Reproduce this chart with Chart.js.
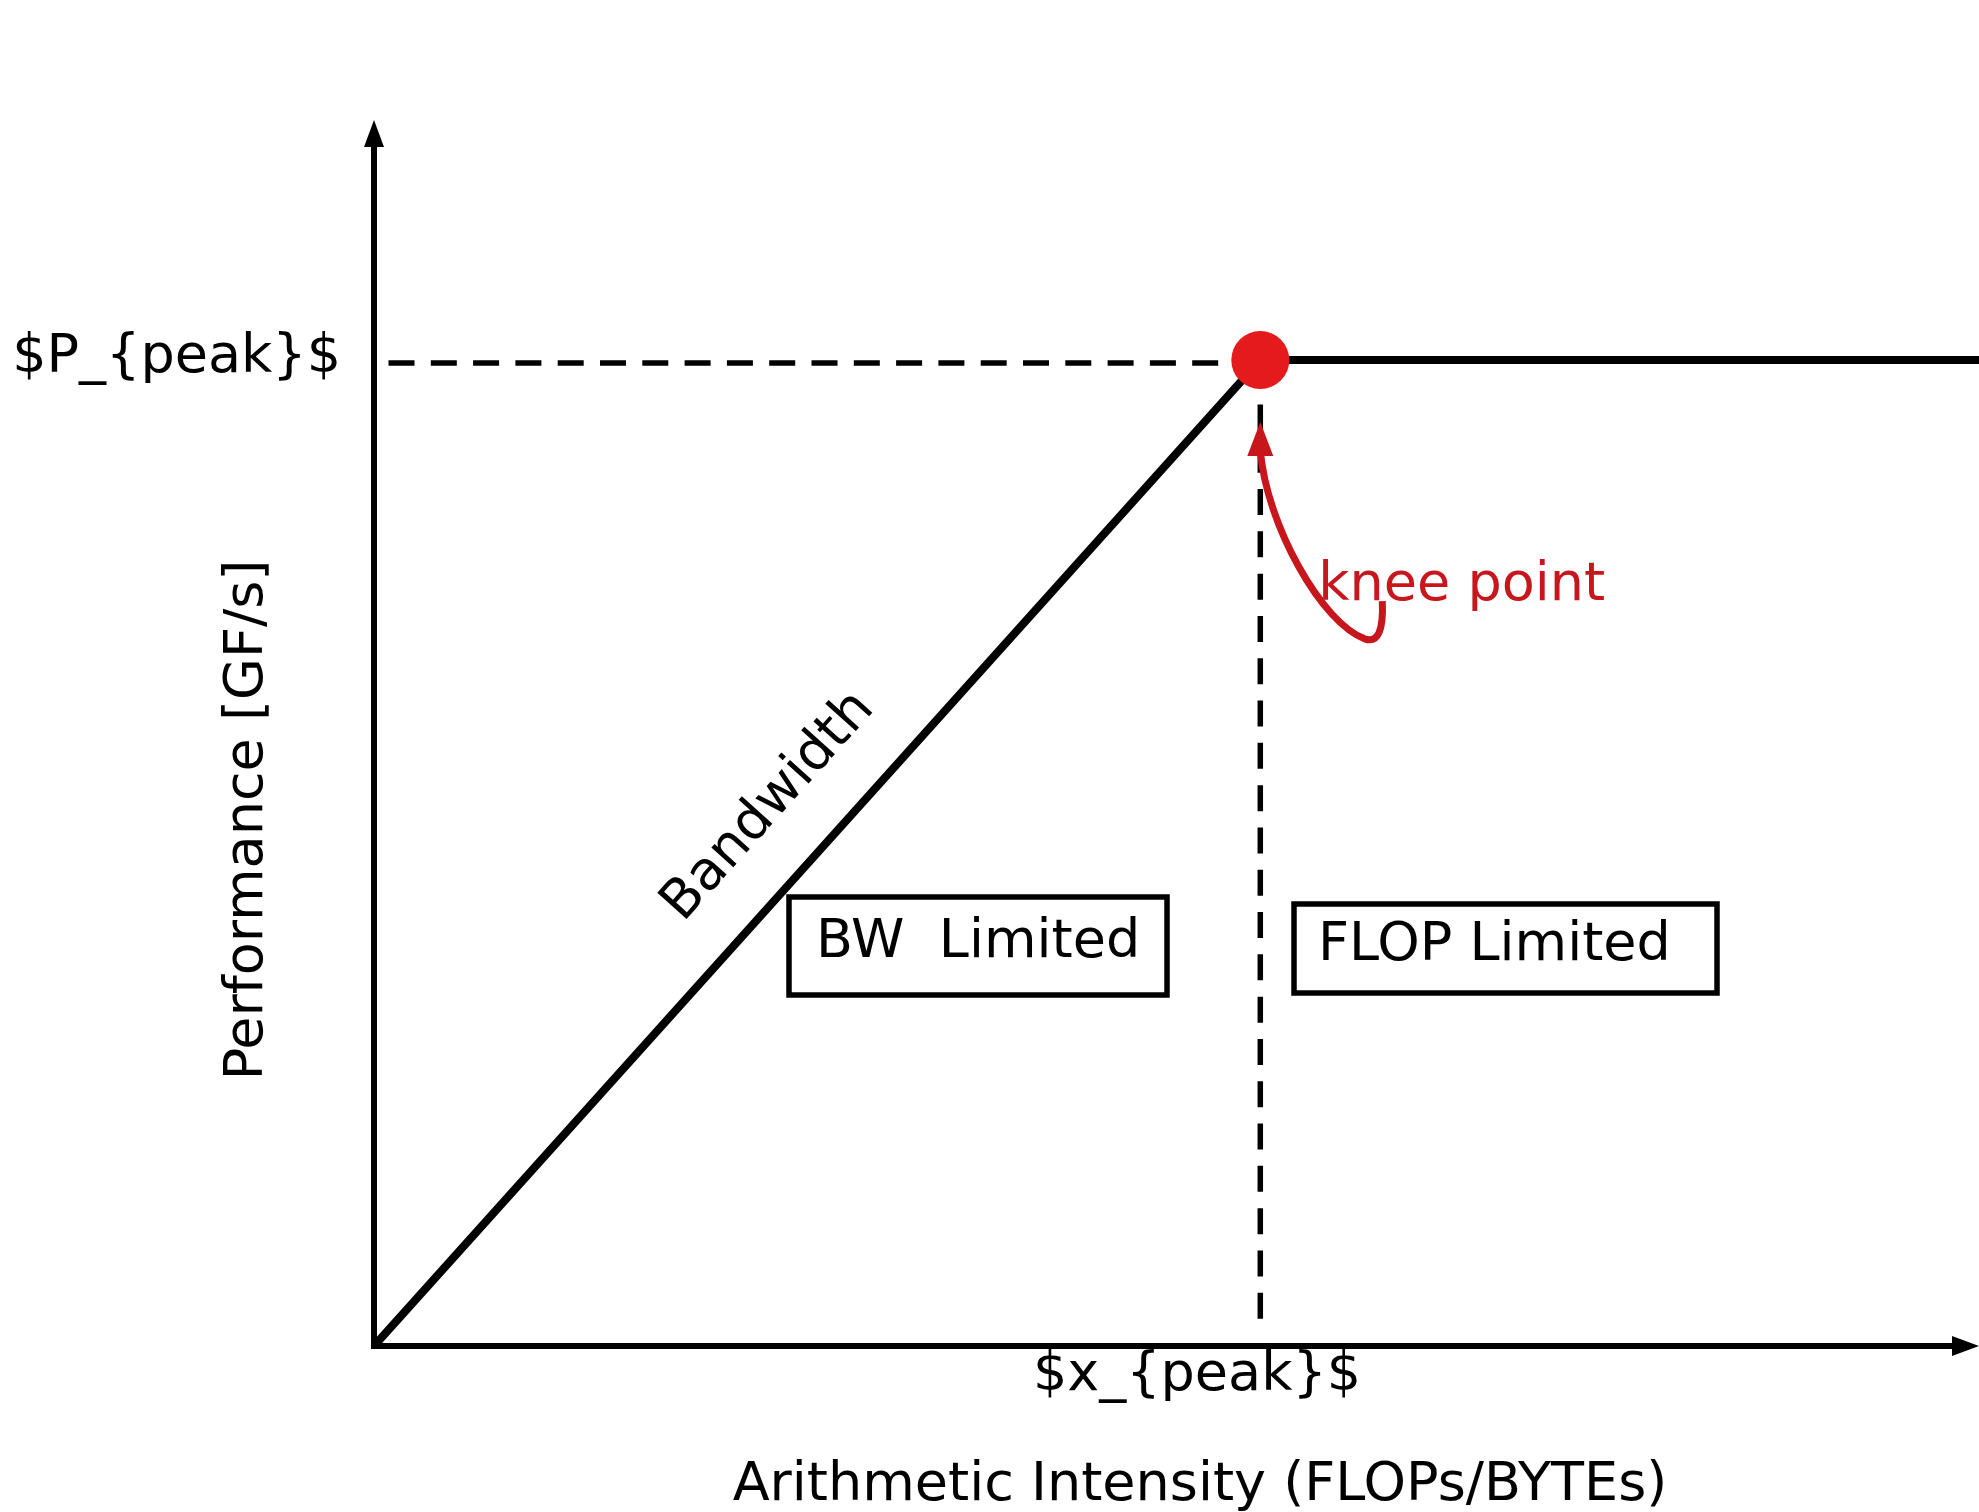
<!DOCTYPE html>
<html>
<head>
<meta charset="utf-8">
<script src="https://cdn.jsdelivr.net/npm/chart.js@4"></script>
<style>
  html, body { margin: 0; padding: 0; background: #ffffff; overflow: hidden; }
  #wrap { width: 1979px; height: 1512px; }
</style>
</head>
<body>
<div id="wrap"><canvas id="c" width="1979" height="1512"></canvas></div>
<script>
// ---- data ----
const xPeak = 5.5;            // knee intensity (arbitrary units)
const pPeak = 100;            // peak performance (arbitrary units)
const xMax = 9.96;
const yMax = 124.35;
const rooflineX = [0, xPeak, xMax];
const rooflineY = [0, pPeak, pPeak];
const peakDashX = [0.09, xPeak];
const peakDashY = [99.7, 99.7];
const kneeDashX = [xPeak, xPeak];
const kneeDashY = [95.5, 2.7];
const yTickLabel = '$P_{peak}$';
const xTickLabel = '$x_{peak}$';
const xTitle = 'Arithmetic Intensity (FLOPs/BYTEs)';
const yTitle = 'Performance [GF/s]';
const lineLabel = 'Bandwidth';
const regionLabels = ['BW  Limited', 'FLOP Limited'];
const kneeLabel = 'knee point';

const pts = (xs, ys) => xs.map((v, i) => ({ x: v, y: ys[i] }));
const FONT = '54px "DejaVu Sans"';
const RED = '#c8161d';

const deco = {
  id: 'deco',
  beforeDraw(chart) {
    const ctx = chart.ctx;
    ctx.save();
    ctx.fillStyle = '#ffffff';
    ctx.fillRect(0, 0, chart.width, chart.height);
    ctx.restore();
  },
  beforeDatasetsDraw(chart) {
    const { ctx, chartArea: a, scales: { x, y } } = chart;
    const ox = x.getPixelForValue(0), oy = y.getPixelForValue(0);
    ctx.save();
    ctx.strokeStyle = '#000'; ctx.fillStyle = '#000';
    ctx.lineWidth = 6; ctx.lineCap = 'butt';
    // y axis
    ctx.beginPath(); ctx.moveTo(ox, oy + 3); ctx.lineTo(ox, a.top + 26); ctx.stroke();
    ctx.beginPath(); ctx.moveTo(ox, a.top); ctx.lineTo(ox - 10, a.top + 27); ctx.lineTo(ox + 10, a.top + 27); ctx.closePath(); ctx.fill();
    // x axis
    ctx.beginPath(); ctx.moveTo(ox - 3, oy); ctx.lineTo(a.right - 25, oy); ctx.stroke();
    ctx.beginPath(); ctx.moveTo(a.right, oy); ctx.lineTo(a.right - 27, oy - 10); ctx.lineTo(a.right - 27, oy + 10); ctx.closePath(); ctx.fill();
    ctx.restore();
  },
  afterDatasetsDraw(chart) {
    const { ctx, scales: { x, y } } = chart;
    const ox = x.getPixelForValue(0), oy = y.getPixelForValue(0);
    const kx = x.getPixelForValue(xPeak), ky = y.getPixelForValue(pPeak);
    ctx.save();
    ctx.font = FONT;
    ctx.fillStyle = '#000';
    ctx.textBaseline = 'alphabetic';
    // tick-like labels
    ctx.textAlign = 'right';
    ctx.fillText(yTickLabel, ox - 33, ky + 12);
    ctx.textAlign = 'center';
    ctx.fillText(xTickLabel, 1197, oy + 44);
    ctx.fillText(xTitle, 1200, oy + 154);
    // y title
    ctx.save();
    ctx.translate(262, 820);
    ctx.rotate(-Math.PI / 2);
    ctx.textAlign = 'center';
    ctx.fillText(yTitle, 0, 0);
    ctx.restore();
    // Bandwidth label along the slope
    ctx.save();
    ctx.translate(ox + 309, oy - 423);
    ctx.rotate(-48 * Math.PI / 180);
    ctx.textAlign = 'left';
    ctx.fillText(lineLabel, 0, 0);
    ctx.restore();
    // region boxes
    ctx.lineWidth = 5.5;
    ctx.strokeStyle = '#000';
    ctx.strokeRect(789, 897, 378, 98);
    ctx.strokeRect(1294, 904, 423, 89);
    ctx.textAlign = 'left';
    ctx.fillText(regionLabels[0], 816, 957);
    ctx.fillText(regionLabels[1], 1318, 960);
    // knee annotation
    ctx.fillStyle = RED;
    ctx.fillText(kneeLabel, kx + 58, ky + 240);
    ctx.strokeStyle = RED;
    ctx.lineWidth = 7;
    ctx.lineCap = 'butt';
    ctx.beginPath();
    ctx.moveTo(kx + 122, ky + 241);
    ctx.quadraticCurveTo(kx + 124, ky + 285, kx + 105, ky + 279);
    ctx.bezierCurveTo(kx + 62, ky + 264, kx + 6, ky + 165, kx, ky + 90);
    ctx.stroke();
    ctx.beginPath();
    ctx.moveTo(kx, ky + 62);
    ctx.lineTo(kx - 13, ky + 96);
    ctx.lineTo(kx + 13, ky + 96);
    ctx.closePath();
    ctx.fill();
    ctx.restore();
  }
};

new Chart(document.getElementById('c'), {
  type: 'scatter',
  data: {
    datasets: [
      { data: pts([xPeak], [pPeak]), pointRadius: 29, pointHoverRadius: 29,
        backgroundColor: '#e41a1c', borderWidth: 0, showLine: false },
      { data: pts(rooflineX, rooflineY), showLine: true, borderColor: '#000',
        borderWidth: 8, pointRadius: 0, tension: 0, clip: false },
      { data: pts(peakDashX, peakDashY), showLine: true, borderColor: '#000',
        borderWidth: 5.5, borderDash: [26, 16.3], pointRadius: 0 },
      { data: pts(kneeDashX, kneeDashY), showLine: true, borderColor: '#000',
        borderWidth: 5.5, borderDash: [26, 16.3], pointRadius: 0 }
    ]
  },
  options: {
    responsive: false,
    animation: false,
    devicePixelRatio: 1,
    layout: { autoPadding: false, padding: { left: 374, right: 0, top: 120, bottom: 166 } },
    scales: {
      x: { type: 'linear', min: 0, max: xMax, display: false },
      y: { type: 'linear', min: 0, max: yMax, display: false }
    },
    plugins: { legend: { display: false }, tooltip: { enabled: false }, title: { display: false } }
  },
  plugins: [deco]
});
</script>
</body>
</html>
